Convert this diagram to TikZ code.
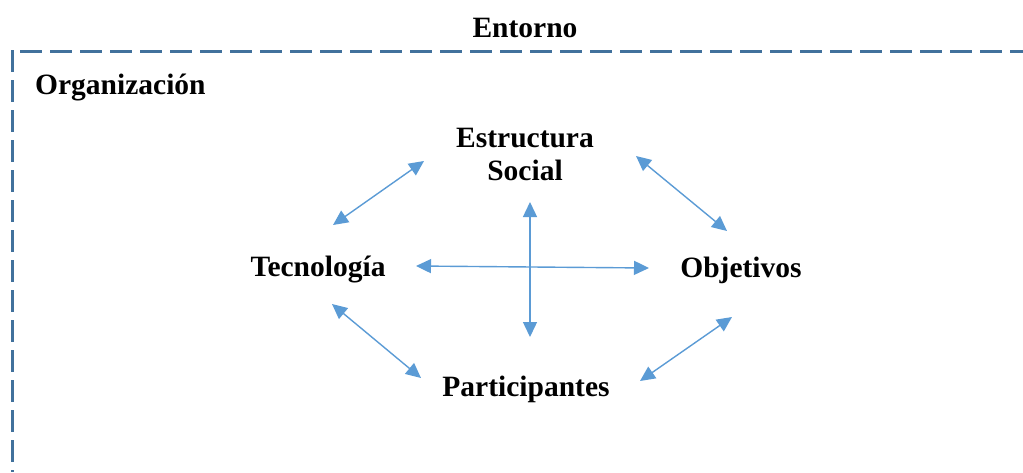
\documentclass[tikz,border=0pt]{standalone}
\usepackage{fontspec}
\setmainfont{Liberation Serif}
\usetikzlibrary{arrows.meta}
\definecolor{frameblue}{RGB}{65,113,156}
\definecolor{arrowblue}{RGB}{91,155,213}
\tikzset{
  lbl/.style={font=\fontsize{29.5}{33}\selectfont\bfseries, inner sep=0pt, align=center},
  frame/.style={draw=frameblue, line width=3pt, dash pattern=on 22pt off 8pt},
  link/.style={draw=arrowblue, line width=1.4pt, {Triangle[length=15pt,width=14pt]}-{Triangle[length=15pt,width=14pt]}}
}
\begin{document}
\begin{tikzpicture}[x=1pt,y=-1pt]
\useasboundingbox (0,0) rectangle (1023,472);
% frame
\coordinate (ht) at (20,51);
\coordinate (hr) at (1023,51);
\coordinate (vt) at (12.5,50);
\coordinate (vb) at (12.5,472);
\draw[frame] (ht) -- (hr);
\draw[frame] (vt) -- (vb);
% labels
\node[lbl] (ent) at (525,28) {Entorno};
\node[lbl, anchor=west] (org) at (35,88) {Organización};
\node[lbl, text width=200pt] (est) at (525,154) {Estructura\\[0pt]Social};
\node[lbl] (tec) at (318,270) {Tecnología};
\node[lbl] (obj) at (741,270) {Objetivos};
\node[lbl] (par) at (526,389) {Participantes};
% arrow end points
\coordinate (a1) at (424,161);
\coordinate (a2) at (333,225);
\coordinate (b1) at (636,156);
\coordinate (b2) at (727,231);
\coordinate (h1) at (416,266);
\coordinate (h2) at (649,268);
\coordinate (v1) at (530,202);
\coordinate (v2) at (530,337);
\coordinate (c1) at (332,304);
\coordinate (c2) at (421,378);
\coordinate (d1) at (732,317);
\coordinate (d2) at (640,381);
\draw[link] (a1) -- (a2);
\draw[link] (b1) -- (b2);
\draw[link] (h1) -- (h2);
\draw[link] (v1) -- (v2);
\draw[link] (c1) -- (c2);
\draw[link] (d1) -- (d2);
\end{tikzpicture}
\end{document}
